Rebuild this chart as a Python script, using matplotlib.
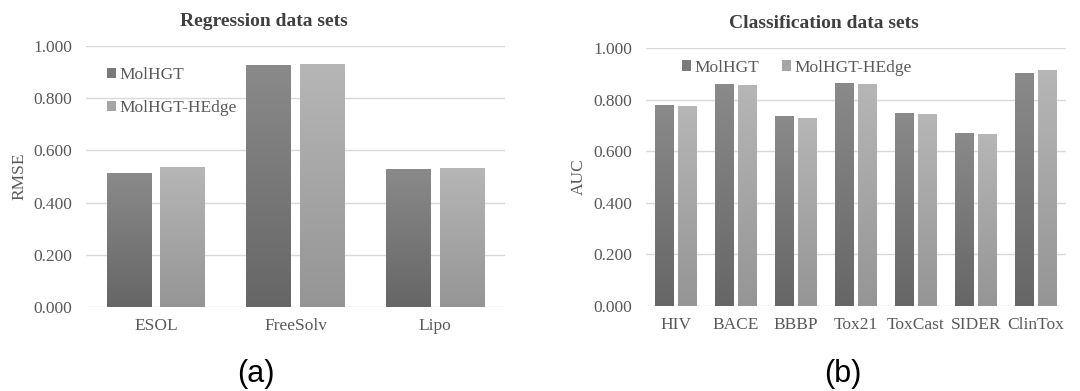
import matplotlib.pyplot as plt
import numpy as np
from matplotlib.colors import LinearSegmentedColormap

# Regression data (RMSE)
reg_sets = ['ESOL', 'FreeSolv', 'Lipo']
reg_molhgt = [0.513, 0.927, 0.529]
reg_hedge = [0.536, 0.931, 0.533]

# Classification data (AUC)
cls_sets = ['HIV', 'BACE', 'BBBP', 'Tox21', 'ToxCast', 'SIDER', 'ClinTox']
cls_molhgt = [0.779, 0.860, 0.736, 0.864, 0.748, 0.671, 0.903]
cls_hedge = [0.775, 0.857, 0.729, 0.860, 0.744, 0.667, 0.915]

labels = ['MolHGT', 'MolHGT-HEdge']
dark = ('#8a8a8a', '#666666')
light = ('#b6b6b6', '#959595')
txt = '#595959'
serif = 'Liberation Serif'


def gradient_bars(ax, bars, cols):
    cmap = LinearSegmentedColormap.from_list('g', [cols[1], cols[0]])
    grad = np.linspace(0, 1, 256).reshape(-1, 1)
    for b in bars:
        x0, y0 = b.get_x(), b.get_y()
        im = ax.imshow(grad, cmap=cmap, aspect='auto', origin='lower',
                       extent=(x0, x0 + b.get_width(), y0, y0 + b.get_height()),
                       zorder=3)
        im.set_clip_path(b)


def draw(ax, cats, s1, s2, ylab, bw, gap):
    x = np.arange(len(cats))
    off = (bw + gap) / 2
    b1 = ax.bar(x - off, s1, bw, color='#7a7a7a', label=labels[0], zorder=2)
    b2 = ax.bar(x + off, s2, bw, color='#a6a6a6', label=labels[1], zorder=2)
    gradient_bars(ax, b1, dark)
    gradient_bars(ax, b2, light)
    ax.set_xlim(-0.5, len(cats) - 0.5)
    ax.set_ylim(0, 1.0)
    ax.set_yticks(np.arange(0, 1.01, 0.2))
    ax.set_yticklabels([f'{v:.3f}' for v in np.arange(0, 1.01, 0.2)])
    ax.set_xticks(x)
    ax.set_xticklabels(cats)
    ax.yaxis.grid(True, color='#d9d9d9', lw=1, zorder=0)
    ax.set_axisbelow(True)
    for s in ax.spines.values():
        s.set_visible(False)
    ax.tick_params(length=0, labelsize=12.5, labelcolor=txt)
    ax.tick_params(axis='y', pad=10)
    ax.tick_params(axis='x', pad=8)
    for t in ax.get_xticklabels() + ax.get_yticklabels():
        t.set_fontfamily(serif)
    ax.set_ylabel(ylab, fontsize=12.5, color=txt, family=serif)
    return b1, b2


fig = plt.figure(figsize=(10.8, 3.91), dpi=100)
ax1 = fig.add_axes([0.0796, 0.2148, 0.388, 0.6675])
ax2 = fig.add_axes([0.598, 0.2174, 0.389, 0.660])

draw(ax1, reg_sets, reg_molhgt, reg_hedge, 'RMSE', 0.32, 0.064)
draw(ax2, cls_sets, cls_molhgt, cls_hedge, 'AUC', 0.31, 0.065)
ax1.yaxis.set_label_coords(-0.14, 0.5)
ax2.yaxis.set_label_coords(-0.14, 0.5)

leg_kw = dict(frameon=False, handlelength=0.55, handleheight=0.55,
              handletextpad=0.2, borderpad=0, borderaxespad=0,
              prop={'family': serif, 'size': 12.5}, labelcolor=txt)
ax1.legend(loc='upper left', bbox_to_anchor=(0.05, 0.92), labelspacing=1.0, **leg_kw)
ax2.legend(loc='upper left', bbox_to_anchor=(0.085, 0.955), ncol=2,
           columnspacing=1.3, **leg_kw)

fig.text(264 / 1080, 1 - 22 / 391, 'Regression data sets', ha='center', va='center',
         fontsize=14, fontweight='bold', color='#404040', family=serif)
fig.text(824 / 1080, 1 - 23 / 391, 'Classification data sets', ha='center', va='center',
         fontsize=14, fontweight='bold', color='#404040', family=serif)
fig.text(256 / 1080, 1 - 374 / 391, '(a)', ha='center', va='center',
         fontsize=22, family='Liberation Sans', color='black')
fig.text(843 / 1080, 1 - 374 / 391, '(b)', ha='center', va='center',
         fontsize=22, family='Liberation Sans', color='black')

fig.savefig('out.png', dpi=100)
plt.close(fig)
